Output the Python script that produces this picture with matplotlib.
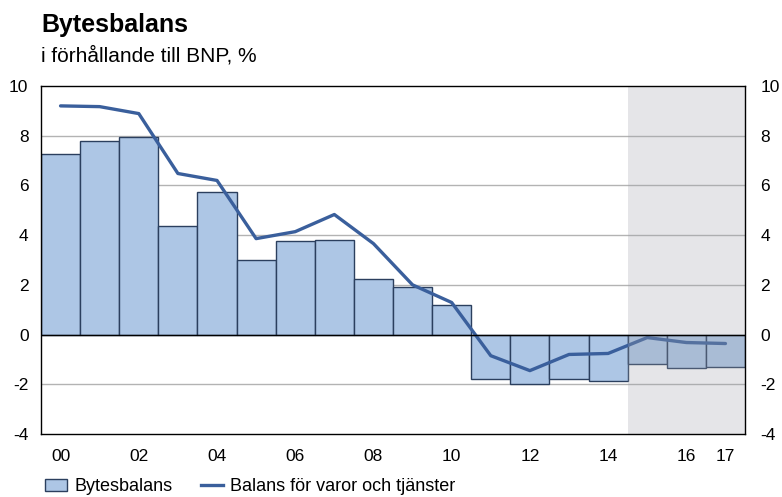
import matplotlib
matplotlib.use("Agg")
import matplotlib.pyplot as plt
from matplotlib.patches import Patch
from matplotlib.lines import Line2D

plt.rcParams['font.family'] = ['Liberation Sans', 'DejaVu Sans']
plt.rcParams['axes.unicode_minus'] = False

years = list(range(2000, 2018))
bytesbalans = [7.28, 7.8, 7.96, 4.38, 5.75, 2.98, 3.78, 3.82, 2.25, 1.93, 1.2,
               -1.8, -1.97, -1.77, -1.85, -1.2, -1.33, -1.29]
varor_tjanster = [9.2, 9.17, 8.89, 6.48, 6.2, 3.86, 4.14, 4.83, 3.66, 2.0, 1.29,
                  -0.85, -1.45, -0.8, -0.76, -0.12, -0.32, -0.36]
xtick_years = [2000, 2002, 2004, 2006, 2008, 2010, 2012, 2014, 2016, 2017]
xtick_labels = ["00", "02", "04", "06", "08", "10", "12", "14", "16", "17"]
yticks = [-4, -2, 0, 2, 4, 6, 8, 10]
forecast_start = 2015

fig = plt.figure(figsize=(7.82, 4.97), dpi=100)
ax = fig.add_axes([41/782, 1-434/497, (745-41)/782, (434-86)/497])

ax.bar(years, bytesbalans, width=1.0, color='#adc6e5', edgecolor='#2b3f5e',
       linewidth=1.0, zorder=2)
ax.plot(years, varor_tjanster, color='#3a5f9c', linewidth=2.4, zorder=3,
        solid_capstyle='round')

ax.axvspan(forecast_start - 0.5, years[-1] + 0.5, color='#a0a2aa', alpha=0.27,
           linewidth=0, zorder=4)

for y in yticks[1:-1]:
    if y == 0:
        ax.axhline(y, color='black', linewidth=1.0, zorder=5)
    else:
        ax.axhline(y, color='#b3b3b3', linewidth=1.0, zorder=1)

ax.set_xlim(years[0] - 0.5, years[-1] + 0.5)
ax.set_ylim(-4, 10)
ax.set_yticks(yticks)
ax.set_xticks(xtick_years)
ax.set_xticklabels(xtick_labels)
ax.tick_params(axis='both', length=0, labelsize=12.5, colors='black')
ax.tick_params(axis='x', pad=11)
ax.tick_params(axis='y', pad=9)
for s in ax.spines.values():
    s.set_color('black')
    s.set_linewidth(1.0)
    s.set_zorder(6)

ax2 = ax.twinx()
ax2.set_ylim(-4, 10)
ax2.set_yticks(yticks)
ax2.tick_params(axis='y', length=0, labelsize=12.5, colors='black', pad=11)
for s in ax2.spines.values():
    s.set_visible(False)

fig.text(41/782, 1-32/497, "Bytesbalans", fontsize=18, fontweight='bold',
         va='baseline', ha='left')
fig.text(41/782, 1-62/497, "i förhållande till BNP, %", fontsize=15,
         va='baseline', ha='left')

handles = [Patch(facecolor='#adc6e5', edgecolor='#2b3f5e', linewidth=1.0),
           Line2D([0], [0], color='#3a5f9c', linewidth=2.4)]
fig.legend(handles, ["Bytesbalans", "Balans för varor och tjänster"],
           loc='lower left', bbox_to_anchor=(38/782, -0.011), ncol=2,
           frameon=False, fontsize=13, handlelength=1.2, handleheight=0.7,
           handletextpad=0.4, columnspacing=1.6, borderaxespad=0)

fig.savefig("out.png", dpi=100)
